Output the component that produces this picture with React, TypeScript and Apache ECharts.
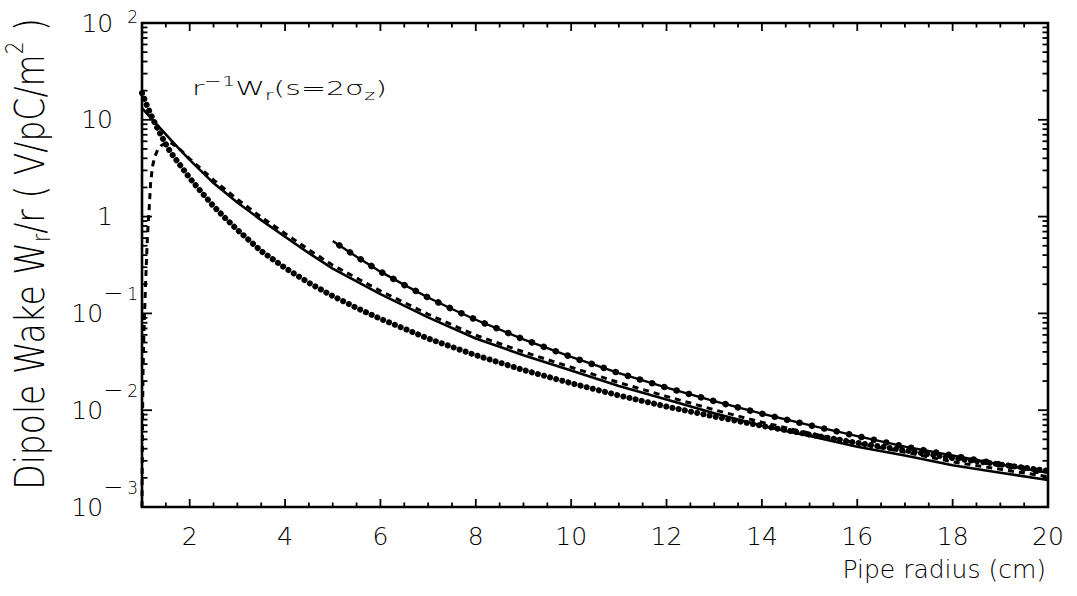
import React, { useEffect, useRef } from 'react';
import * as echarts from 'echarts';

// ---- axis ranges ----
const X_MIN = 1;
const X_MAX = 20;
const Y_MIN = 0.001;
const Y_MAX = 100;

// ---- series A : dense dotted curve ----
const xA = [1.0, 1.1, 1.2, 1.3, 1.4, 1.5, 1.6, 1.8, 2.0, 2.25, 2.5, 2.75, 3.0, 3.5, 4.0, 4.5, 5.0, 5.5, 6.0, 7.0, 8.0, 9.0, 10, 11, 12, 13, 14, 15, 16, 17, 18, 19, 20];
const yA = [18.9, 14.2, 10.9, 8.6, 6.9, 5.6, 4.6, 3.4, 2.5, 1.78, 1.28, 0.96, 0.73, 0.44, 0.295, 0.207, 0.151, 0.114, 0.088, 0.055, 0.037, 0.026, 0.019, 0.0142, 0.0109, 0.0086, 0.0069, 0.0056, 0.0046, 0.00385, 0.0032, 0.00275, 0.00236];

// ---- series B : solid curve ----
const xB = [1.0, 1.2, 1.4, 1.6, 1.8, 2.0, 2.5, 3.0, 3.5, 4.0, 4.5, 5.0, 6.0, 7.0, 8.0, 9.0, 10, 11, 12, 13, 14, 15, 16, 17, 18, 19, 20];
const yB = [13.2, 10.3, 8.0, 6.25, 4.88, 3.85, 2.22, 1.4, 0.92, 0.62, 0.42, 0.29, 0.158, 0.091, 0.055, 0.037, 0.0257, 0.0178, 0.0129, 0.0093, 0.0069, 0.0054, 0.0042, 0.0034, 0.0027, 0.00226, 0.0019];

// ---- series C : dashed curve ----
const xC = [1.0, 1.01, 1.02, 1.035, 1.05, 1.07, 1.09, 1.11, 1.13, 1.15, 1.18, 1.22, 1.27, 1.33, 1.4, 1.5, 1.6, 1.75, 2.0, 2.5, 3.0, 3.5, 4.0, 4.5, 5.0, 6.0, 7.0, 8.0, 9.0, 10, 11, 12, 13, 14, 15, 16, 17, 18, 19, 20];
const yC = [0.001, 0.007, 0.022, 0.05, 0.09, 0.17, 0.32, 0.55, 0.85, 1.2, 2.2, 3.3, 4.2, 4.9, 5.4, 5.8, 5.8, 5.2, 3.95, 2.4, 1.51, 0.99, 0.67, 0.455, 0.315, 0.171, 0.098, 0.0595, 0.04, 0.0278, 0.0193, 0.0139, 0.0101, 0.0075, 0.0058, 0.00455, 0.00368, 0.00293, 0.00245, 0.00206];

// ---- series D : line with markers ----
const xD = [5.0, 5.5, 6.0, 6.5, 7.0, 7.5, 8.0, 9.0, 10, 11, 12, 13, 14, 15, 16, 17, 18, 19, 20];
const yD = [0.56, 0.385, 0.27, 0.197, 0.146, 0.111, 0.086, 0.054, 0.0355, 0.0242, 0.0171, 0.0124, 0.0092, 0.007, 0.0054, 0.0042, 0.0034, 0.00275, 0.00225];

// ---- tick marks ----
const xMajorTicks = [2, 4, 6, 8, 10, 12, 14, 16, 18];
const xMinorTicks = [1.5, 2.5, 3, 3.5, 4.5, 5, 5.5, 6.5, 7, 7.5, 8.5, 9, 9.5, 10.5, 11, 11.5, 12.5, 13, 13.5, 14.5, 15, 15.5, 16.5, 17, 17.5, 18.5, 19, 19.5];
const yMajorTicks = [0.01, 0.1, 1, 10];
const yMinorMultipliers = [2, 3, 4, 5, 6, 7, 8, 9];
const yDecades = [0.001, 0.01, 0.1, 1, 10];

const FONT = '"DejaVu Sans", "Liberation Sans", sans-serif';
const FW = 200;

const pairs = (xs: number[], ys: number[]) => xs.map((x, i) => [x, ys[i]]);

export default function App() {
  const ref = useRef<HTMLDivElement>(null);

  useEffect(() => {
    if (!ref.current) return;
    const chart = echarts.init(ref.current, null, { renderer: 'svg' });

    const xTickData: number[][] = [
      ...xMajorTicks.map((x) => [x, 1, 8]),
      ...xMinorTicks.map((x) => [x, 1, 4.5]),
    ];
    const yTickData: number[][] = [...yMajorTicks.map((y) => [X_MIN, y, 10])];
    yDecades.forEach((d) => yMinorMultipliers.forEach((m) => yTickData.push([X_MIN, d * m, 5.5])));

    const tickStyle = { stroke: '#000', lineWidth: 1.8 };
    const lbl = { fontFamily: FONT, fontWeight: FW, color: '#000' };

    const option: any = {
      animation: false,
      backgroundColor: '#fff',
      grid: {
        left: 142,
        right: 29,
        top: 23,
        bottom: 89,
        outerBoundsMode: 'none',
        containLabel: false,
        show: true,
        borderColor: '#000',
        borderWidth: 2.6,
        backgroundColor: 'transparent',
      },
      xAxis: {
        type: 'value',
        min: X_MIN,
        max: X_MAX,
        interval: 1,
        axisLine: { show: false },
        axisTick: { show: false },
        splitLine: { show: false },
        axisLabel: {
          margin: 17,
          fontSize: 25,
          fontFamily: FONT,
          fontWeight: FW,
          color: '#000',
          formatter: (v: number) => (Math.round(v) % 2 === 0 ? String(Math.round(v)) : ''),
        },
      },
      yAxis: {
        type: 'log',
        logBase: 10,
        min: Y_MIN,
        max: Y_MAX,
        axisLine: { show: false },
        axisTick: { show: false },
        splitLine: { show: false },
        axisLabel: {
          margin: 4,
          color: '#000',
          fontFamily: FONT,
          fontWeight: FW,
          formatter: (v: number) => {
            const p = Math.round(Math.log10(v));
            if (p === 2) return '{b|10}{gap| }{et|2}';
            if (p === 1) return '{b|10}{sp| }';
            if (p === 0) return '{b|1}{sp| }';
            return '{b|10}{m|−}{e|' + -p + '}';
          },
          rich: {
            b: { ...lbl, fontSize: 25, lineHeight: 26 },
            m: { ...lbl, fontSize: 24, lineHeight: 24, padding: [0, 0, 40, 0] },
            e: { ...lbl, fontSize: 17, lineHeight: 18, padding: [0, 0, 38, 4] },
            sp: { ...lbl, fontSize: 17, lineHeight: 18, width: 25 },
            gap: { ...lbl, fontSize: 17, lineHeight: 18, width: 10 },
            et: { ...lbl, fontSize: 17, lineHeight: 18, padding: [0, 0, 12, 4] },
          },
        },
      },
      graphic: [
        {
          type: 'text',
          x: 30,
          y: 254,
          rotation: Math.PI / 2,
          scaleY: 1.22,
          style: {
            text: '{n|Dipole Wake W}{sub|r}{n|/r ( V/pC/m}{sup|2}{n| )}',
            align: 'center',
            verticalAlign: 'middle',
            fill: '#000',
            rich: {
              n: { fontSize: 33, lineHeight: 34, fontFamily: FONT, fontWeight: FW, fill: '#000' },
              sub: { fontSize: 20, lineHeight: 20, padding: [18, 0, 0, 0], fontFamily: FONT, fontWeight: FW, fill: '#000' },
              sup: { fontSize: 20, lineHeight: 20, padding: [0, 0, 26, 0], fontFamily: FONT, fontWeight: FW, fill: '#000' },
            },
          },
        },
        {
          type: 'text',
          x: 1046,
          y: 569,
          style: {
            text: 'Pipe radius (cm)',
            align: 'right',
            verticalAlign: 'middle',
            fontSize: 25,
            fontFamily: FONT,
            fontWeight: FW,
            fill: '#000',
          },
        },
        {
          type: 'text',
          x: 192,
          y: 88,
          scaleX: 1.5,
          style: {
            text: '{n|r}{sup|−1}{n|W}{sub|r}{n|(s=2σ}{sub|z}{n|)}',
            align: 'left',
            verticalAlign: 'middle',
            fill: '#000',
            rich: {
              n: { fontSize: 20, lineHeight: 22, fontFamily: FONT, fontWeight: FW, fill: '#000' },
              sup: { fontSize: 14, lineHeight: 14, padding: [0, 0, 14, 0], fontFamily: FONT, fontWeight: FW, fill: '#000' },
              sub: { fontSize: 14, lineHeight: 14, padding: [14, 0, 0, 0], fontFamily: FONT, fontWeight: FW, fill: '#000' },
            },
          },
        },
      ],
      series: [
        {
          name: 'A',
          type: 'line',
          data: pairs(xA, yA),
          showSymbol: false,
          lineStyle: { color: '#000', width: 6, type: [0.01, 6.3], cap: 'round', join: 'round' },
        },
        {
          name: 'B',
          type: 'line',
          data: pairs(xB, yB),
          showSymbol: false,
          lineStyle: { color: '#000', width: 2.6, join: 'round' },
        },
        {
          name: 'C',
          type: 'line',
          data: pairs(xC, yC),
          showSymbol: false,
          lineStyle: { color: '#000', width: 3, type: [6, 5], join: 'round' },
        },
        {
          name: 'D',
          type: 'line',
          data: pairs(xD, yD),
          showSymbol: false,
          lineStyle: { color: '#000', width: 2.4, join: 'round' },
        },
        {
          name: 'D markers',
          type: 'line',
          data: pairs(xD, yD),
          showSymbol: false,
          lineStyle: { color: '#000', width: 6.5, type: [0.01, 12.7], cap: 'round', dashOffset: -8 },
        },
        {
          name: 'xticks',
          type: 'custom',
          silent: true,
          data: xTickData,
          encode: { x: 0, y: 1 },
          renderItem: (_params: any, api: any) => {
            const x = api.value(0);
            const len = api.value(2);
            const b = api.coord([x, Y_MIN]);
            const t = api.coord([x, Y_MAX]);
            return {
              type: 'group',
              children: [
                { type: 'line', shape: { x1: b[0], y1: b[1], x2: b[0], y2: b[1] - len }, style: tickStyle },
                { type: 'line', shape: { x1: t[0], y1: t[1], x2: t[0], y2: t[1] + len }, style: tickStyle },
              ],
            };
          },
        },
        {
          name: 'yticks',
          type: 'custom',
          silent: true,
          data: yTickData,
          encode: { x: 0, y: 1 },
          renderItem: (_params: any, api: any) => {
            const y = api.value(1);
            const len = api.value(2);
            const l = api.coord([X_MIN, y]);
            const r = api.coord([X_MAX, y]);
            return {
              type: 'group',
              children: [
                { type: 'line', shape: { x1: l[0], y1: l[1], x2: l[0] + len, y2: l[1] }, style: tickStyle },
                { type: 'line', shape: { x1: r[0], y1: r[1], x2: r[0] - len, y2: r[1] }, style: tickStyle },
              ],
            };
          },
        },
      ],
    };

    chart.setOption(option);
    return () => chart.dispose();
  }, []);

  return (
    <div
      ref={ref}
      style={{ position: 'absolute', left: 0, top: 0, width: 1077, height: 596, background: '#fff' }}
    />
  );
}
